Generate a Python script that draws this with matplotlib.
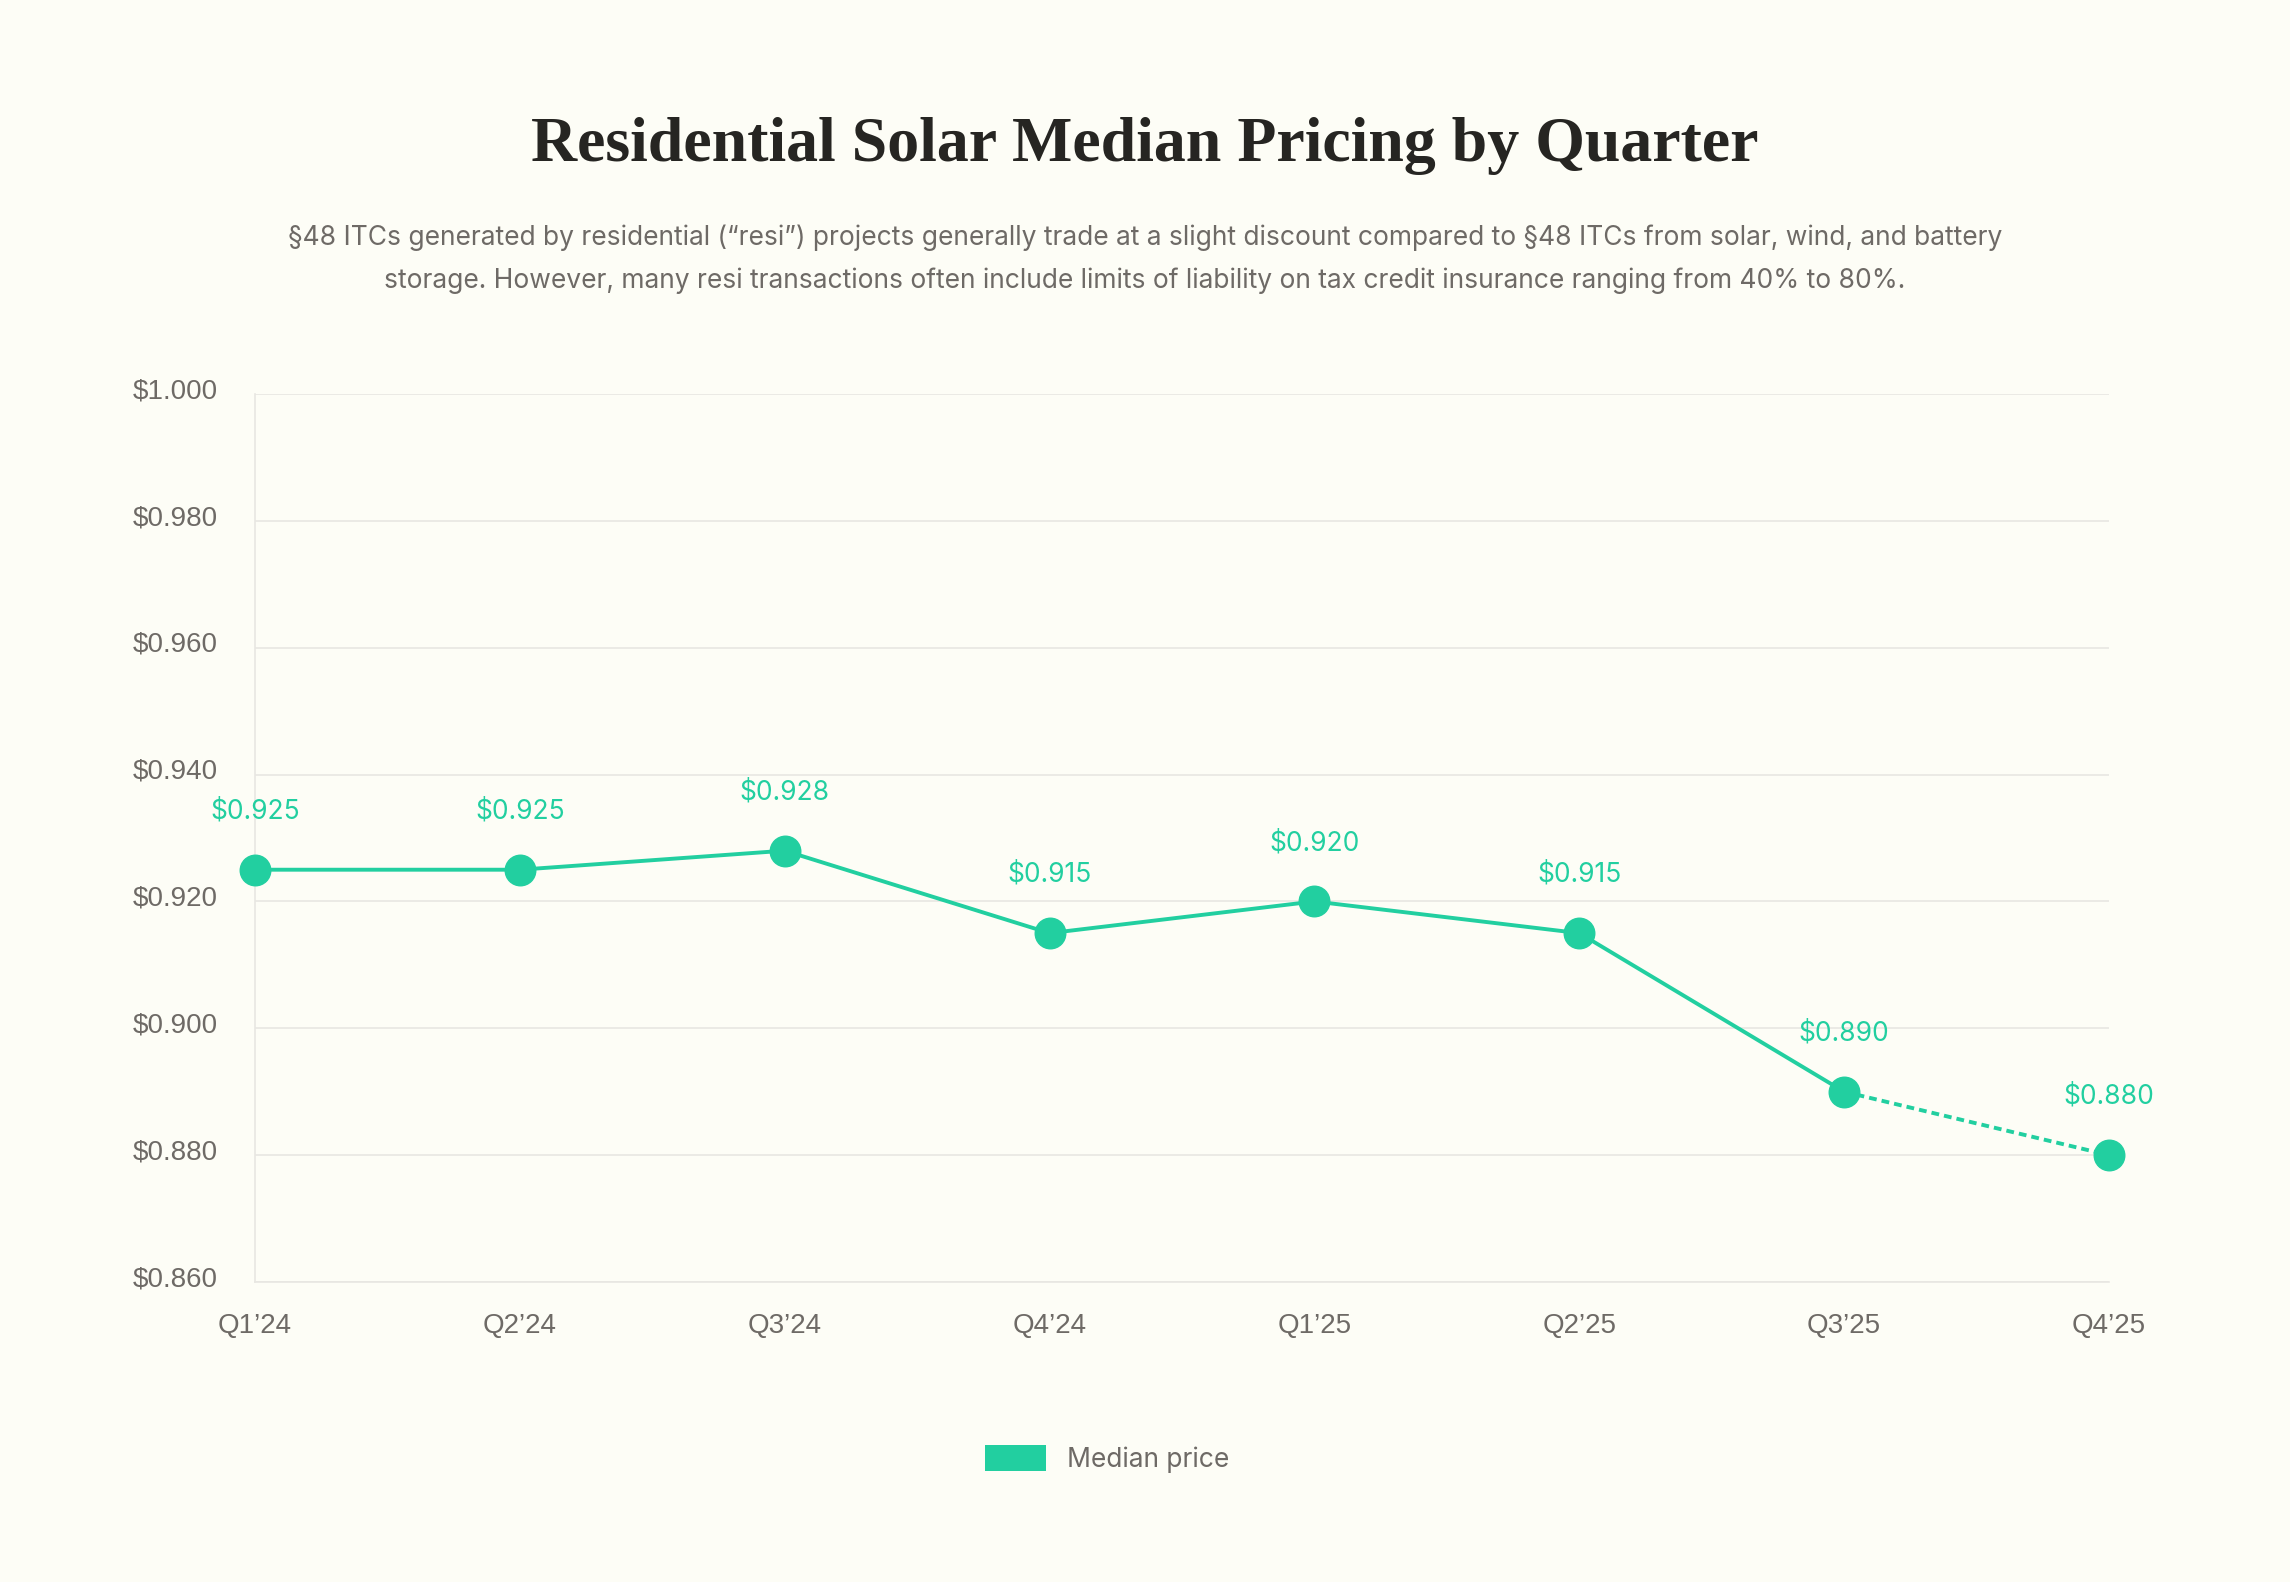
import matplotlib
matplotlib.use("Agg")
import matplotlib.pyplot as plt
from matplotlib.patches import Patch
from matplotlib.transforms import ScaledTranslation

quarters = ["Q1\u201924", "Q2\u201924", "Q3\u201924", "Q4\u201924",
            "Q1\u201925", "Q2\u201925", "Q3\u201925", "Q4\u201925"]
median_price = [0.925, 0.925, 0.928, 0.915, 0.920, 0.915, 0.890, 0.880]
y_ticks = [0.86, 0.88, 0.90, 0.92, 0.94, 0.96, 0.98, 1.00]

title = "Residential Solar Median Pricing by Quarter"
subtitle = ("\u00a748 ITCs generated by residential (\u201cresi\u201d) projects generally trade at a slight discount compared to \u00a748 ITCs from solar, wind, and battery\n"
            "storage. However, many resi transactions often include limits of liability on tax credit insurance ranging from 40% to 80%.")

bg = "#FDFDF6"
green = "#22CFA0"
gray_text = "#6E6A66"
grid_col = "#E8E7E2"

fig = plt.figure(figsize=(22.9, 15.82), dpi=100, facecolor=bg)
ax = fig.add_axes([255 / 2290, 1 - 1282 / 1582, (2109 - 255) / 2290, (1282 - 394) / 1582])
ax.set_facecolor(bg)

x = list(range(len(quarters)))
# solid part up to Q3'25, dotted for the last (estimated) quarter
ax.plot(x[:-1], median_price[:-1], color=green, lw=2.8, zorder=3, solid_capstyle="round")
ax.plot(x[-2:], median_price[-2:], color=green, lw=2.8, ls=(0, (2, 1.3)), zorder=3)
ax.plot(x, median_price, ls="none", marker="o", ms=22, color=green, zorder=4)

for xi, v in zip(x, median_price):
    ax.annotate("$%.3f" % v, (xi, v), xytext=(0, 42), textcoords="offset points",
                ha="center", va="center", color=green, fontsize=19, family="Inter")

ax.set_xlim(0, 7)
ax.set_ylim(0.86, 1.0)
ax.set_yticks(y_ticks)
ax.set_yticklabels(["$%.3f" % t for t in y_ticks])
ax.set_xticks(x)
ax.set_xticklabels(quarters)
ax.tick_params(axis="both", length=0, colors=gray_text, labelsize=20)
ax.tick_params(axis="y", pad=27)
ax.tick_params(axis="x", pad=22)
for lab in ax.get_xticklabels() + ax.get_yticklabels():
    lab.set_family("Liberation Sans")
shift = ScaledTranslation(0, 2 / 72, fig.dpi_scale_trans)
for lab in ax.get_yticklabels():
    lab.set_verticalalignment("center")
    lab.set_transform(lab.get_transform() + shift)

ax.grid(axis="y", color=grid_col, lw=1.2)
ax.set_axisbelow(True)
for s in ["top", "right"]:
    ax.spines[s].set_visible(False)
ax.spines["left"].set_color(grid_col)
ax.spines["bottom"].set_color(grid_col)
ax.spines["left"].set_linewidth(1.2)
ax.spines["bottom"].set_linewidth(1.2)
for ln in ax.lines:
    ln.set_clip_on(False)

fig.text(0.5, 1 - 146 / 1582, title, ha="center", va="center", fontsize=46,
         family="Liberation Serif", weight="bold", color="#262522")
fig.text(0.5, 1 - 259 / 1582, subtitle, ha="center", va="center", fontsize=19,
         family="Inter", color=gray_text, linespacing=1.8)

handle = Patch(facecolor=green, edgecolor="none")
fig.legend([handle], ["Median price"], loc="center", bbox_to_anchor=(1107 / 2290, 1 - 1459 / 1582),
           frameon=False, handlelength=2.3, handleheight=1.1,
           prop={"family": "Inter", "size": 19}, labelcolor=gray_text)

fig.savefig("out.png", dpi=100, facecolor=bg)
